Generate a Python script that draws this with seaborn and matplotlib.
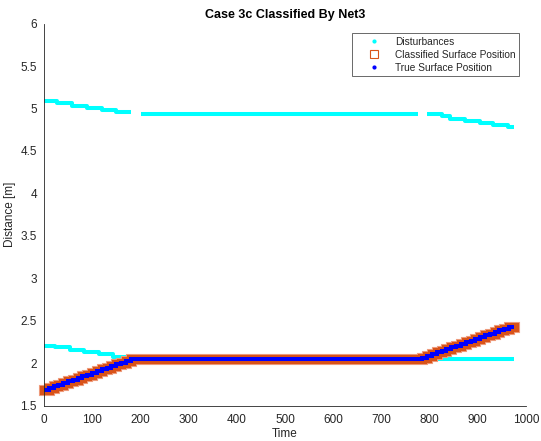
import numpy as np
import pandas as pd
import matplotlib
matplotlib.use("Agg")
import matplotlib.pyplot as plt
import seaborn as sns
from matplotlib.lines import Line2D

# ---------------- data ----------------
# Disturbances: step segments (start times, levels, end time)
dist_top_a_t = [0, 28, 59, 90, 120, 150]
dist_top_a_y = [5.09, 5.06, 5.03, 5.01, 4.98, 4.96]
dist_top_a_end = 180

dist_top_b_t = [201]
dist_top_b_y = [4.94]
dist_top_b_end = 777

dist_top_c_t = [794, 825, 843, 874, 905, 932, 963]
dist_top_c_y = [4.94, 4.91, 4.88, 4.85, 4.83, 4.80, 4.78]
dist_top_c_end = 976

dist_low_a_t = [0, 24, 55, 83, 114, 143]
dist_low_a_y = [2.21, 2.19, 2.16, 2.13, 2.11, 2.08]
dist_low_a_end = 172

dist_low_b_t = [172]
dist_low_b_y = [2.05]
dist_low_b_end = 976

# Surface position (classified == true), staircase
surf_t = [0, 10, 20, 30, 40, 50, 60, 70, 80, 90, 100, 110, 120, 130, 140,
          150, 160, 170, 180,
          785, 795, 805, 815, 825, 835, 845, 855, 865, 875, 885, 895, 905,
          915, 925, 935, 945, 955, 965]
surf_y = [1.69, 1.71, 1.73, 1.75, 1.77, 1.79, 1.81, 1.83, 1.85, 1.87, 1.89,
          1.91, 1.93, 1.95, 1.97, 1.99, 2.01, 2.03, 2.05,
          2.07, 2.09, 2.11, 2.13, 2.15, 2.17, 2.19, 2.21, 2.23, 2.25, 2.27,
          2.29, 2.31, 2.33, 2.35, 2.37, 2.39, 2.41, 2.43]
surf_end = 975

x_ticks = [0, 100, 200, 300, 400, 500, 600, 700, 800, 900, 1000]
y_ticks = [1.5, 2, 2.5, 3, 3.5, 4, 4.5, 5, 5.5, 6]
y_tick_labels = ["1.5", "2", "2.5", "3", "3.5", "4", "4.5", "5", "5.5", "6"]

legend_labels = ["Disturbances", "Classified Surface Position", "True Surface Position"]

# ---------------- style ----------------
sns.set_style("white")
plt.rcParams["font.family"] = ["Liberation Sans", "DejaVu Sans"]
AX_COL = "#262626"
CYAN = "#00FFFF"
ORANGE = "#D95319"
SALMON = "#EFA183"
BLUE = "#0000FF"


def seg_df(t, y, end):
    return pd.DataFrame({"Time": list(t) + [end], "Distance": list(y) + [y[-1]]})


fig = plt.figure(figsize=(5.41, 4.41), dpi=100)
ax = fig.add_axes([0.0811, 0.0794, 0.8912, 0.8673])

for t, y, e in [(dist_top_a_t, dist_top_a_y, dist_top_a_end),
                (dist_top_b_t, dist_top_b_y, dist_top_b_end),
                (dist_top_c_t, dist_top_c_y, dist_top_c_end),
                (dist_low_a_t, dist_low_a_y, dist_low_a_end),
                (dist_low_b_t, dist_low_b_y, dist_low_b_end)]:
    sns.lineplot(data=seg_df(t, y, e), x="Time", y="Distance", ax=ax,
                 estimator=None, sort=False, drawstyle="steps-post",
                 color=CYAN, lw=2.9, solid_capstyle="butt", legend=False)

surf = seg_df(surf_t, surf_y, surf_end)
sns.lineplot(data=surf, x="Time", y="Distance", ax=ax, estimator=None, sort=False,
             drawstyle="steps-post", color=SALMON, lw=8.0,
             solid_capstyle="projecting", solid_joinstyle="miter", legend=False,
             clip_on=False)
sns.lineplot(data=surf, x="Time", y="Distance", ax=ax, estimator=None, sort=False,
             drawstyle="steps-post", color=ORANGE, lw=6.6,
             solid_capstyle="projecting", solid_joinstyle="miter", legend=False,
             clip_on=False)
sns.lineplot(data=surf, x="Time", y="Distance", ax=ax, estimator=None, sort=False,
             drawstyle="steps-post", color=BLUE, lw=2.9,
             solid_capstyle="butt", solid_joinstyle="miter", legend=False)

ax.set_xlim(0, 1000)
ax.set_ylim(1.5, 6)
ax.set_xticks(x_ticks)
ax.set_xticklabels([str(v) for v in x_ticks])
ax.set_yticks(y_ticks)
ax.set_yticklabels(y_tick_labels)
ax.tick_params(direction="in", length=3.5, width=0.6, color=AX_COL,
               labelcolor=AX_COL, labelsize=8.5)
ax.tick_params(axis="x", pad=5.5)
ax.tick_params(axis="y", pad=5)
for s in ["top", "right"]:
    ax.spines[s].set_visible(False)
for s in ["left", "bottom"]:
    ax.spines[s].set_color(AX_COL)
    ax.spines[s].set_linewidth(0.6)

ax.set_title("Case 3c Classified By Net3", fontsize=9, fontweight="bold",
             color="black", pad=4)
ax.set_xlabel("Time", fontsize=8.5, color=AX_COL, labelpad=2)
ax.set_ylabel("Distance [m]", fontsize=8.5, color=AX_COL, labelpad=3)

handles = [
    Line2D([], [], ls="none", marker=".", color=CYAN, markersize=4),
    Line2D([], [], ls="none", marker="s", color=ORANGE, markerfacecolor="none",
           markeredgecolor=ORANGE, markersize=5.5, markeredgewidth=0.8),
    Line2D([], [], ls="none", marker=".", color=BLUE, markersize=4),
]
leg = ax.legend(handles, legend_labels, loc="upper right",
                bbox_to_anchor=(0.9855, 0.975), borderaxespad=0,
                fontsize=7.25, frameon=True, fancybox=False, edgecolor=AX_COL,
                handlelength=3.6, handletextpad=0.3, labelspacing=0.3,
                borderpad=0.35)
leg.get_frame().set_linewidth(0.6)

fig.savefig("out.png", dpi=100)
